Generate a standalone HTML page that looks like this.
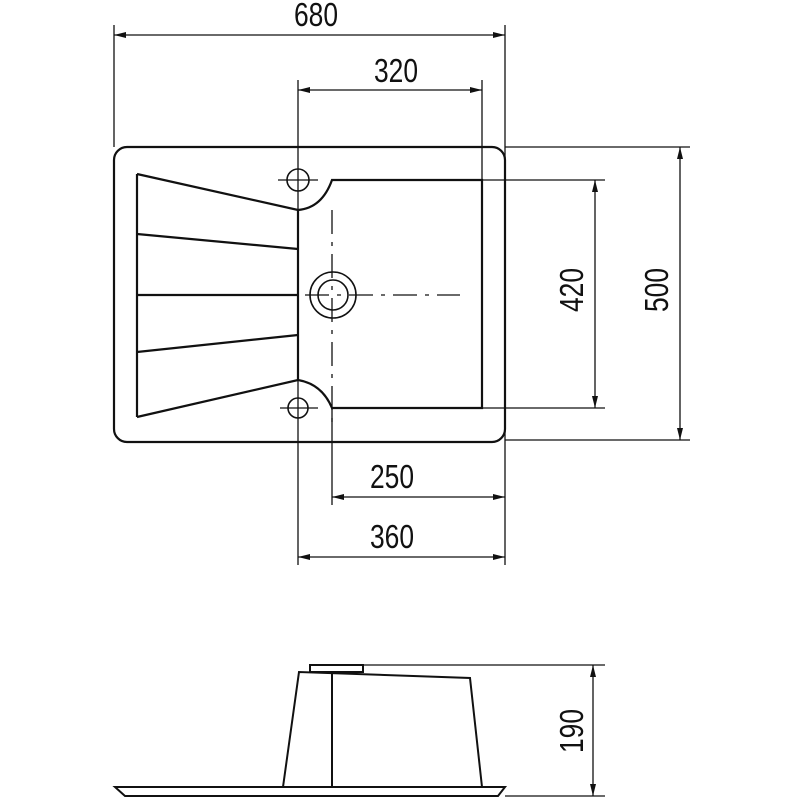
<!DOCTYPE html>
<html><head><meta charset="utf-8"><style>
html,body{margin:0;padding:0;background:#fff}
svg{display:block}
text{font-family:"Liberation Sans",sans-serif;font-size:33px;fill:#111}
</style></head><body>
<svg width="800" height="800" viewBox="0 0 800 800" xmlns="http://www.w3.org/2000/svg">
<defs>
<marker id="a" viewBox="0 0 12 6" refX="12" refY="3" markerWidth="12" markerHeight="6" markerUnits="userSpaceOnUse" orient="auto-start-reverse"><path d="M0,0L12,3L0,6z" fill="#111"/></marker>
</defs>
<g stroke="#111" fill="none" stroke-width="1.3">
<line x1="114" y1="25" x2="114" y2="147"/>
<line x1="505" y1="25" x2="505" y2="565"/>
<line x1="298" y1="80" x2="298" y2="565"/>
<line x1="482" y1="80" x2="482" y2="180"/>
<line x1="332" y1="408" x2="332" y2="505"/>
<line x1="505" y1="147" x2="690" y2="147"/>
<line x1="505" y1="440" x2="690" y2="440"/>
<line x1="482" y1="180" x2="605" y2="180"/>
<line x1="482" y1="408" x2="605" y2="408"/>
<line x1="114" y1="35" x2="505" y2="35" marker-start="url(#a)" marker-end="url(#a)"/>
<line x1="298" y1="90" x2="482" y2="90" marker-start="url(#a)" marker-end="url(#a)"/>
<line x1="680" y1="147" x2="680" y2="440" marker-start="url(#a)" marker-end="url(#a)"/>
<line x1="595" y1="180" x2="595" y2="408" marker-start="url(#a)" marker-end="url(#a)"/>
<line x1="332" y1="497" x2="505" y2="497" marker-start="url(#a)" marker-end="url(#a)"/>
<line x1="298" y1="557" x2="505" y2="557" marker-start="url(#a)" marker-end="url(#a)"/>
<line x1="332" y1="210" x2="332" y2="430" stroke-dasharray="24,8,4,8"/>
<line x1="305" y1="295" x2="460" y2="295" stroke-dasharray="24,8,4,8"/>
<line x1="278" y1="180" x2="318" y2="180"/>
<line x1="280" y1="408" x2="318" y2="408"/>
</g>
<g stroke="#111" fill="none" stroke-width="2.2">
<rect x="114" y="147" width="391" height="295" rx="13"/>
<path d="M137,174 L137,417"/>
<path d="M137,174 L298,210 Q322,208 332,180 L482,180 L482,408 L332,408 Q322,384 298,380 L137,417"/>
<line x1="298" y1="210" x2="298" y2="380"/>
<line x1="137" y1="234" x2="298" y2="249"/>
<line x1="137" y1="295" x2="298" y2="295"/>
<line x1="137" y1="352" x2="298" y2="335"/>
</g>
<g stroke="#111" fill="none" stroke-width="1.6">
<circle cx="298" cy="180" r="11"/>
<circle cx="298" cy="408" r="10"/>
<circle cx="333" cy="295" r="23"/>
<circle cx="333" cy="295" r="15"/>
</g>
<g stroke="#111" fill="none" stroke-width="2">
<path d="M115,787 L505,787 L498,796 L125,796 Z"/>
<path d="M283,787 L299,672 L470,678 L482,787"/>
<line x1="332" y1="672" x2="332" y2="787"/>
<rect x="310" y="665" width="53" height="7"/>
</g>
<g stroke="#111" fill="none" stroke-width="1.3">
<line x1="363" y1="665" x2="605" y2="665"/>
<line x1="505" y1="796" x2="605" y2="796"/>
<line x1="593" y1="665" x2="593" y2="796" marker-start="url(#a)" marker-end="url(#a)"/>
</g>
<g>
<text text-anchor="middle" transform="translate(316 26) scale(0.8 1)">680</text>
<text text-anchor="middle" transform="translate(396 82) scale(0.8 1)">320</text>
<text text-anchor="middle" transform="translate(392 488) scale(0.8 1)">250</text>
<text text-anchor="middle" transform="translate(392 548) scale(0.8 1)">360</text>
<text transform="translate(668 290) rotate(-90) scale(0.8 1)" text-anchor="middle">500</text>
<text transform="translate(583 290) rotate(-90) scale(0.8 1)" text-anchor="middle">420</text>
<text transform="translate(583 731) rotate(-90) scale(0.8 1)" text-anchor="middle">190</text>
</g>
</svg>
</body></html>
